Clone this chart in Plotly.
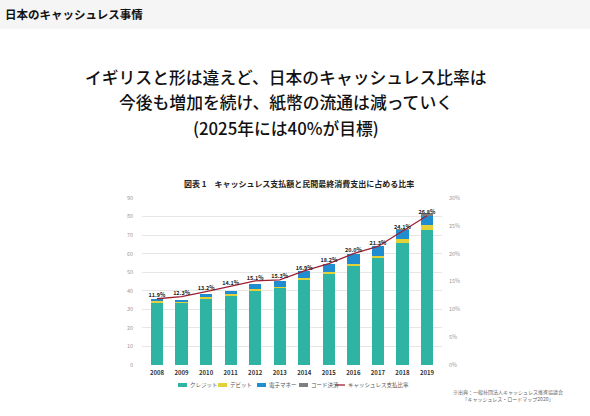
import plotly.graph_objects as go

years = ["2008", "2009", "2010", "2011", "2012", "2013", "2014", "2015", "2016", "2017", "2018", "2019"]
credit = [33.5, 33.7, 35.6, 37.6, 40.4, 41.5, 45.9, 49.5, 53.5, 57.6, 65.8, 72.9]
debit = [0.8, 0.7, 0.8, 0.9, 0.6, 0.7, 0.9, 0.7, 0.9, 1.3, 1.9, 2.3]
emoney = [1.2, 0.9, 1.9, 1.6, 2.4, 3.2, 3.7, 4.4, 5.4, 5.5, 5.2, 4.9]
code = [0, 0, 0, 0, 0, 0, 0, 0, 0, 0, 0.1, 1.6]
ratio = [11.9, 12.3, 13.2, 14.1, 15.1, 15.3, 16.9, 18.2, 20.0, 21.3, 24.1, 26.8]
series_names = ["クレジット", "デビット", "電子マネー", "コード決済", "キャッシュレス支払比率"]
series_colors = ["#2fb3a3", "#e3d13a", "#1f8dd0", "#7f7f7f", "#9e1f32"]
title_lines = ["イギリスと形は違えど、日本のキャッシュレス比率は",
               "今後も増加を続け、紙幣の流通は減っていく",
               "(2025年には40%が目標)"]

W, H = 590, 416
L, R, T, B = 142, 442, 198, 365
FONT = "Noto Sans CJK JP"


def px(x):
    return (x - L) / (R - L)


def py(y):
    return (B - y) / (B - T)


fig = go.Figure()
for vals, name, col in zip([credit, debit, emoney, code], series_names[:4], series_colors[:4]):
    fig.add_bar(x=years, y=vals, name=name, marker_color=col, marker_line_width=0)
fig.add_scatter(
    x=years, y=ratio, yaxis="y2", name=series_names[4],
    mode="lines+text", line=dict(color=series_colors[4], width=1.3),
    text=[f"<b>{v:.1f}%</b>" for v in ratio], textposition="top center",
    textfont=dict(size=5.5, color="#222", family=FONT),
)

annotations = [
    dict(text="<b>日本のキャッシュレス事情</b>", xref="paper", yref="paper", x=px(3), y=py(14),
         xanchor="left", yanchor="middle", showarrow=False,
         font=dict(size=11.5, color="#111", family=FONT)),
    dict(text="<b>図表 1　キャッシュレス支払額と民間最終消費支出に占める比率</b>", xref="paper", yref="paper",
         x=px(299), y=py(183), xanchor="center", yanchor="middle", showarrow=False,
         font=dict(size=8, color="#222", family=FONT)),
    dict(text="※出典：一般社団法人キャッシュレス推進協議会<br>「キャッシュレス・ロードマップ2020」", xref="paper", yref="paper",
         x=px(508), y=py(395.5), xanchor="center", yanchor="middle", showarrow=False, align="center",
         font=dict(size=5, color="#666", family=FONT)),
]
for line, yy in zip(title_lines, [77, 102, 128]):
    annotations.append(dict(text=line, xref="paper", yref="paper", x=px(286), y=py(yy),
                            xanchor="center", yanchor="middle", showarrow=False,
                            font=dict(size=16.8, color="#111", family=FONT, weight=500)))

shapes = [
    dict(type="rect", xref="paper", yref="paper", x0=px(0), x1=px(W), y0=py(0), y1=py(29),
         fillcolor="#f5f5f5", line_width=0, layer="below"),
]

# manual compact legend (swatch x positions in pixels)
legend_y = 385
legend_x = [178, 218, 257, 299, 335]
for i, (name, col, lx) in enumerate(zip(series_names, series_colors, legend_x)):
    if i < 4:
        shapes.append(dict(type="rect", xref="paper", yref="paper", x0=px(lx), x1=px(lx + 9),
                           y0=py(legend_y + 2), y1=py(legend_y - 2), fillcolor=col, line_width=0))
    else:
        shapes.append(dict(type="line", xref="paper", yref="paper", x0=px(lx), x1=px(lx + 10),
                           y0=py(legend_y), y1=py(legend_y), line=dict(color=col, width=1.3)))
    annotations.append(dict(text=name, xref="paper", yref="paper", x=px(lx + (10 if i < 4 else 11)),
                            y=py(legend_y), xanchor="left", yanchor="middle", showarrow=False,
                            font=dict(size=5.5, color="#555", family=FONT)))

fig.update_layout(
    width=W, height=H,
    margin=dict(l=L, r=W - R, t=T, b=H - B, pad=0, autoexpand=False),
    paper_bgcolor="white", plot_bgcolor="white",
    barmode="stack", bargap=0.5,
    font=dict(family=FONT, color="#333"),
    showlegend=False,
    xaxis=dict(type="category", showgrid=False, ticks="", showline=False,
               tickfont=dict(size=6, color="#333", weight="bold"), ticklabelstandoff=3),
    yaxis=dict(range=[0, 90], dtick=10, showgrid=True, gridcolor="#e6e6e6", gridwidth=0.8,
               zeroline=False, tickfont=dict(size=5.5, color="#999"), ticks="",
               ticklabelstandoff=8),
    yaxis2=dict(range=[0, 30], dtick=5, overlaying="y", side="right", showgrid=False,
                zeroline=False, ticksuffix="%", tickfont=dict(size=5.5, color="#999"),
                ticks="", ticklabelstandoff=6),
    shapes=shapes,
    annotations=annotations,
)

fig.write_html("out.html")
